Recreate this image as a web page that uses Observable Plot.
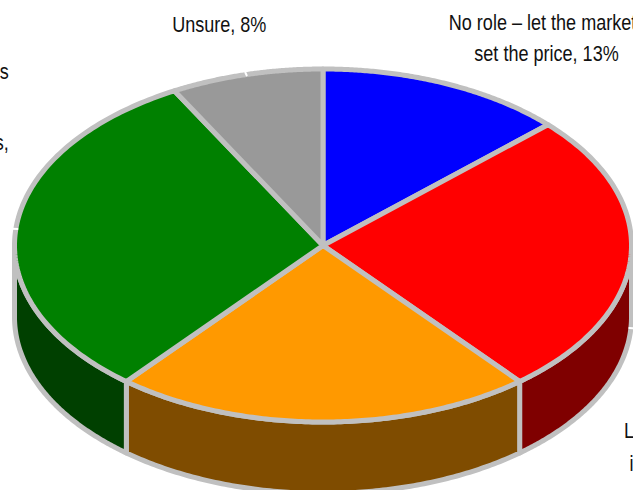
<!DOCTYPE html>
<html><head><meta charset="utf-8">
<style>html,body{margin:0;padding:0;background:#fff;overflow:hidden}svg{display:block}</style>
<script src="https://cdn.jsdelivr.net/npm/d3@7"></script>
<script src="https://cdn.jsdelivr.net/npm/@observablehq/plot@0.6"></script>
</head><body><div id="chart"></div><script>
const categories = ["No role", "Red", "Orange", "Green", "Unsure"];
const values = [13, 26, 22, 31, 8];
const topColors = ["#0000ff", "#ff0000", "#ff9900", "#008000", "#999999"];
const wallColors = ["#00007f", "#7f0000", "#7f4c00", "#004000", "#4c4c4c"];
const rimColor = "#c0c0c0";
const depth = 0.405;

const tau = 2 * Math.PI;
const total = d3.sum(values);
let acc = 0;
const slices = values.map((v, i) => {
  const a0 = acc / total * tau; acc += v; const a1 = acc / total * tau;
  return {i, name: categories[i], a0, a1, mid: (a0 + a1) / 2};
});
const pt = (a, drop = 0) => ({x: Math.sin(a), y: Math.cos(a) - drop});
const arc = (a0, a1) => d3.range(0, 121).map(k => a0 + (a1 - a0) * k / 120);

const topPolys = slices.flatMap(s => [{x: 0, y: 0}, ...arc(s.a0, s.a1).map(a => pt(a))]
  .map(p => ({...p, id: s.i, fill: topColors[s.i]})));
const wallPolys = slices.flatMap(s => {
  const a0 = Math.max(s.a0, Math.PI / 2), a1 = Math.min(s.a1, 3 * Math.PI / 2);
  if (a1 <= a0) return [];
  return [...arc(a0, a1).map(a => pt(a)), ...arc(a1, a0).map(a => pt(a, depth))]
    .map(p => ({...p, id: s.i, fill: wallColors[s.i]}));
});
const ticks = [1, 3, 4].map(i => {
  const s = slices[i], drop = i === 1 ? depth : 0;
  return [{x: Math.sin(s.mid) * 0.995, y: Math.cos(s.mid) * 0.995 - drop, id: i}, {x: Math.sin(s.mid) * 1.012, y: Math.cos(s.mid) * 1.012 - drop, id: i}];
}).flat();

const font = {fontFamily: "'Liberation Sans',sans-serif", fontSize: 22, fill: "#111"};
const label = (i, text, dx, dy, anchor = "middle") => Plot.text([pt(slices[i].mid)], {
  x: "x", y: "y", text: () => text, dx, dy, textAnchor: anchor, ...font});

const chart = Plot.plot({
  width: 633, height: 490, margin: 0,
  x: {domain: [-1, 1], range: [14, 631], axis: null},
  y: {domain: [1, -1], range: [68.5, 421.5], axis: null},
  color: {type: "identity"},
  marks: [
    Plot.line(wallPolys, {x: "x", y: "y", z: "id", fill: "fill", stroke: rimColor, strokeWidth: 5, curve: "linear-closed", strokeLinejoin: "round"}),
    Plot.line(topPolys, {x: "x", y: "y", z: "id", fill: "fill", stroke: rimColor, strokeWidth: 5, curve: "linear-closed", strokeLinejoin: "round"}),
    Plot.line(ticks, {x: "x", y: "y", z: "id", stroke: "#fff", strokeWidth: 2}),
    label(4, "Unsure, 8%", -27, -50),
    label(0, "No role – let the market", 97, -61),
    label(0, "set the price, 13%", 101, -30),
    label(3, "s", -7, -157, "end"),
    label(3, "s,", -7, -86, "end"),
    label(1, "L", -7, 174, "start"),
    label(1, "i", -1.5, 207, "start")
  ]
});
document.getElementById("chart").append(chart);
// The reference's typeface is condensed: narrow each label's glyphs.
d3.select(chart).selectAll("text").each(function () {
  this.setAttribute("lengthAdjust", "spacingAndGlyphs");
  this.setAttribute("textLength", this.getComputedTextLength() * 0.82);
});
</script></body></html>
